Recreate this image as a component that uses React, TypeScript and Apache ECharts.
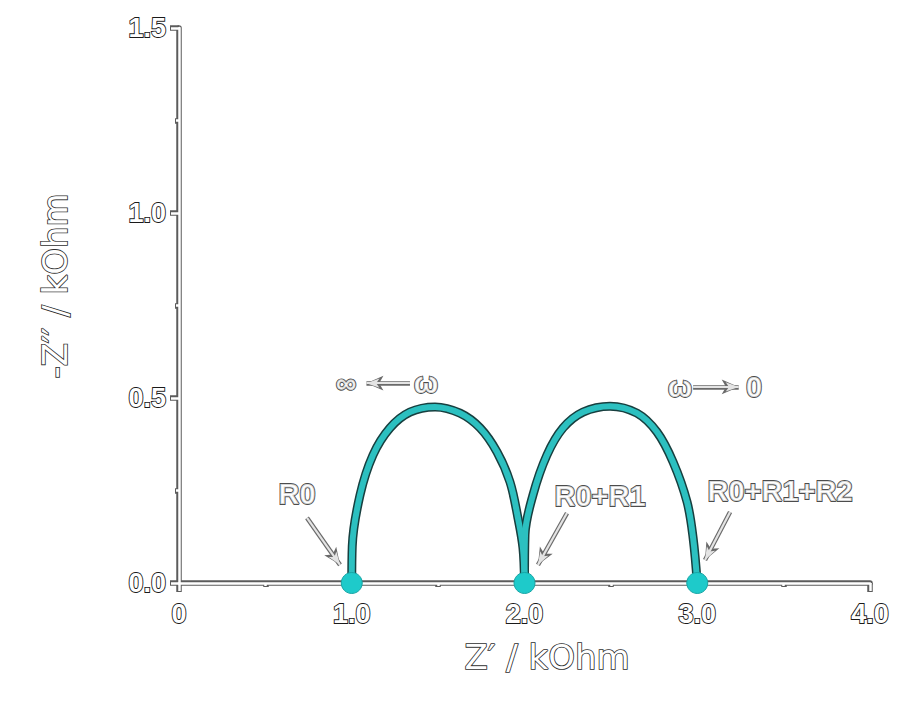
import React, { useEffect, useRef } from "react";
import * as echarts from "echarts";

// First arch (R0 -> R0+R1)
const arc1X = [1.0, 1.003, 1.048, 1.123, 1.221, 1.337, 1.482, 1.627, 1.743, 1.841, 1.916, 1.962, 1.991, 2.0];
const arc1Y = [0.0, 0.1, 0.238, 0.346, 0.419, 0.462, 0.476, 0.459, 0.419, 0.354, 0.273, 0.176, 0.095, 0.0];
// Second arch (R0+R1 -> R0+R1+R2)
const arc2X = [2.0, 2.003, 2.049, 2.13, 2.223, 2.339, 2.495, 2.651, 2.767, 2.86, 2.941, 2.976, 3.0];
const arc2Y = [0.0, 0.13, 0.238, 0.346, 0.419, 0.462, 0.478, 0.459, 0.408, 0.327, 0.219, 0.122, 0.0];

// Resistance points on the real axis
const pointX = [1.0, 2.0, 3.0];
const pointY = [0, 0, 0];

// Annotation labels and their anchor positions
const labelTexts = ["R0", "R0+R1", "R0+R1+R2", "∞", "ω", "ω", "0"];
const labelX = [0.683, 2.437, 3.479, 0.967, 1.43, 2.9, 3.329];
const labelY = [0.24, 0.235, 0.249, 0.54, 0.54, 0.53, 0.53];

// Arrows: start -> end
const arrowFromX = [0.741, 2.246, 3.19, 1.337, 2.976];
const arrowFromY = [0.176, 0.189, 0.192, 0.54, 0.53];
const arrowToX = [0.932, 2.078, 3.045, 1.085, 3.24];
const arrowToY = [0.049, 0.049, 0.062, 0.54, 0.53];

const xTitle = "Z′ / kOhm";
const yTitle = "-Z′′ / kOhm";

const X_MIN = 0, X_MAX = 4, X_INT = 1;
const Y_MIN = 0, Y_MAX = 1.5, Y_INT = 0.5;

const zip = (xs: number[], ys: number[]) => xs.map((x, i) => [x, ys[i]]);

export default function App() {
  const ref = useRef<HTMLDivElement>(null);
  useEffect(() => {
    if (!ref.current) return;
    const chart = echarts.init(ref.current, null, { renderer: "svg" });
    const outlineText = {
      color: "#ffffff",
      textBorderColor: "#1a1a1a",
      textBorderWidth: 1.8,
      fontFamily: "Liberation Sans, Arial, sans-serif",
      fontWeight: "bold" as const,
    };
    const titleStyle = {
      fill: "#ffffff",
      stroke: "#2e2e2e",
      lineWidth: 1.7,
      font: "normal 34px 'DejaVu Sans'",
      align: "center",
      verticalAlign: "middle",
    };
    const grid = { left: 179, right: 32, top: 28, bottom: 119, containLabel: false };
    const dark = { color: "#5c5c5c", width: 5.5 };
    const light = { color: "#ffffff", width: 2.5 };
    const mkX = (idx: number, ls: any, tickLen: number, withLabels: boolean) => ({
      type: "value",
      gridIndex: idx,
      min: X_MIN,
      max: X_MAX,
      interval: X_INT,
      z: idx,
      axisLine: { show: true, lineStyle: ls },
      axisTick: { show: true, length: tickLen, lineStyle: ls },
      minorTick: { show: true, splitNumber: 2, length: tickLen - 5, lineStyle: ls },
      splitLine: { show: false },
      axisLabel: withLabels
        ? {
            ...outlineText,
            fontSize: 27,
            margin: 17,
            formatter: (v: number) => (v === 0 ? "0" : v.toFixed(1)),
          }
        : { show: false },
    });
    const mkY = (idx: number, ls: any, tickLen: number, withLabels: boolean) => ({
      type: "value",
      gridIndex: idx,
      min: Y_MIN,
      max: Y_MAX,
      interval: Y_INT,
      z: idx,
      axisLine: { show: true, lineStyle: ls },
      axisTick: { show: true, length: tickLen, lineStyle: ls },
      minorTick: { show: true, splitNumber: 2, length: tickLen - 5, lineStyle: ls },
      splitLine: { show: false },
      axisLabel: withLabels
        ? {
            ...outlineText,
            fontSize: 27,
            margin: 13,
            formatter: (v: number) => v.toFixed(1),
          }
        : { show: false },
    });
    const arrowData = arrowFromX.map((x, i) => [
      { coord: [x, arrowFromY[i]] },
      { coord: [arrowToX[i], arrowToY[i]] },
    ]);
    const arcSeries = (xs: number[], ys: number[], color: string, width: number, z: number) => ({
      type: "line",
      xAxisIndex: 1,
      yAxisIndex: 1,
      data: zip(xs, ys),
      smooth: 0.35,
      showSymbol: false,
      lineStyle: { color, width },
      z,
    });
    chart.setOption({
      animation: false,
      backgroundColor: "#ffffff",
      grid: [grid, grid],
      xAxis: [mkX(0, dark, 9, false), mkX(1, light, 8, true)],
      yAxis: [mkY(0, dark, 9, false), mkY(1, light, 8, true)],
      graphic: [
        { type: "text", x: 547, y: 657, style: { ...titleStyle, text: xTitle } },
        { type: "text", x: 55, y: 286, rotation: Math.PI / 2, style: { ...titleStyle, text: yTitle } },
      ],
      series: [
        arcSeries(arc1X, arc1Y, "#173f3f", 9, 3),
        arcSeries(arc2X, arc2Y, "#173f3f", 9, 3),
        arcSeries(arc1X, arc1Y, "#2cc0c0", 6, 4),
        arcSeries(arc2X, arc2Y, "#2cc0c0", 6, 4),
        {
          type: "scatter",
          xAxisIndex: 1,
          yAxisIndex: 1,
          data: zip(pointX, pointY),
          symbol: "circle",
          symbolSize: 21,
          itemStyle: { color: "#1ecaca", borderColor: "#17a5a5", borderWidth: 1, opacity: 1 },
          z: 6,
        },
        {
          type: "line",
          xAxisIndex: 1,
          yAxisIndex: 1,
          data: [],
          markLine: {
            silent: true,
            symbol: ["none", "arrow"],
            symbolSize: [11, 17],
            label: { show: false },
            lineStyle: { type: "solid", color: "#6a6a6a", width: 4.5, opacity: 1 },
            data: arrowData,
          },
          z: 5,
        },
        {
          type: "line",
          xAxisIndex: 1,
          yAxisIndex: 1,
          data: [],
          markLine: {
            silent: true,
            symbol: ["none", "arrow"],
            symbolSize: [7, 13],
            label: { show: false },
            lineStyle: { type: "solid", color: "#e4e4e4", width: 2.2, opacity: 1 },
            data: arrowData,
          },
          z: 5,
        },
        {
          type: "scatter",
          xAxisIndex: 1,
          yAxisIndex: 1,
          data: labelTexts.map((t, i) => ({ name: t, value: [labelX[i], labelY[i]] })),
          symbolSize: 0,
          label: {
            show: true,
            position: "inside",
            formatter: (p: any) => p.name,
            ...outlineText,
            fontSize: 29,
          },
          z: 7,
        },
      ],
    });
    return () => chart.dispose();
  }, []);
  return (
    <div
      ref={ref}
      style={{ position: "fixed", left: 0, top: 0, width: 902, height: 702 }}
    />
  );
}
